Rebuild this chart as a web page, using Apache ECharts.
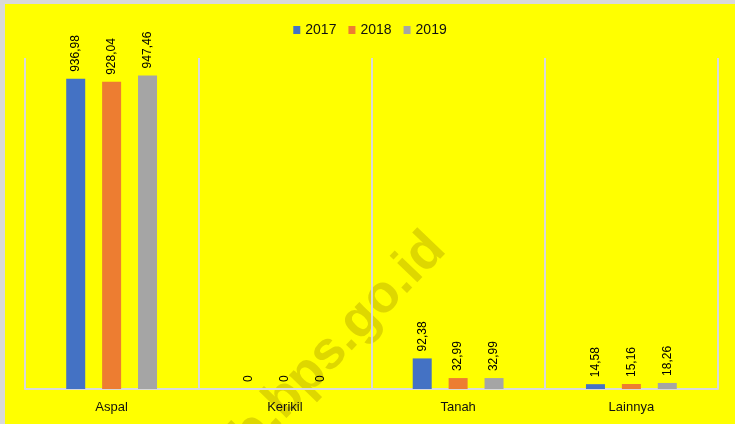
<!DOCTYPE html>
<html>
<head>
<meta charset="utf-8">
<script src="https://cdn.jsdelivr.net/npm/echarts@6/dist/echarts.min.js"></script>
<style>
  html, body { margin: 0; padding: 0; background: #d9d9d9; }
  #chart { position: absolute; left: 5px; top: 4px; width: 730px; height: 420px; }
</style>
</head>
<body>
<div id="chart"></div>
<script>
// data
var categories = ['Aspal', 'Kerikil', 'Tanah', 'Lainnya'];
var years = ['2017', '2018', '2019'];
var data2017 = [936.98, 0, 92.38, 14.58];
var data2018 = [928.04, 0, 32.99, 15.16];
var data2019 = [947.46, 0, 32.99, 18.26];

var colors = ['#4472C4', '#ED7D31', '#A5A5A5'];
var FONT = '"Liberation Sans", Arial, sans-serif';

var chart = echarts.init(document.getElementById('chart'));

// label angka pakai koma desimal
function labelKoma(p) {
  return String(p.value).replace('.', ',');
}

function makeSeries(name, values, color) {
  return {
    name: name,
    type: 'bar',
    data: values,
    barWidth: 19,
    barGap: '89%',
    itemStyle: { color: color },
    label: {
      show: true,
      position: 'top',
      rotate: 90,
      align: 'left',
      verticalAlign: 'middle',
      distance: 7,
      fontSize: 12,
      fontFamily: FONT,
      color: '#000',
      formatter: labelKoma
    }
  };
}

var option = {
  backgroundColor: '#ffff00',
  animation: false,
  legend: {
    data: years,
    top: 14,
    left: 'center',
    itemWidth: 7,
    itemHeight: 8,
    itemGap: 12,
    icon: 'rect',
    textStyle: { fontSize: 14, fontFamily: FONT, color: '#111' }
  },
  grid: { left: 20, right: 17, top: 54, bottom: 35 },
  xAxis: {
    type: 'category',
    data: categories,
    axisLine: { lineStyle: { color: '#d9d9d9', width: 2 } },
    axisTick: { show: false },
    axisLabel: { fontSize: 13, fontFamily: FONT, color: '#111', margin: 12 },
    splitLine: { show: true, lineStyle: { color: '#d9d9d9', width: 2 } }
  },
  yAxis: {
    type: 'value',
    min: 0,
    max: 1000,
    show: false,
    splitLine: { show: false }
  },
  graphic: [{
    type: 'text',
    x: 432,
    y: 237,
    rotation: 46 * Math.PI / 180,
    z: -10,
    silent: true,
    style: {
      text: 'kab.bps.go.id',
      font: 'bold 53px "Liberation Sans", Arial, sans-serif',
      fill: 'rgba(190,175,0,0.5)',
      textAlign: 'right',
      textVerticalAlign: 'middle'
    }
  }],
  series: [
    makeSeries(years[0], data2017, colors[0]),
    makeSeries(years[1], data2018, colors[1]),
    makeSeries(years[2], data2019, colors[2])
  ]
};

chart.setOption(option);
</script>
</body>
</html>
